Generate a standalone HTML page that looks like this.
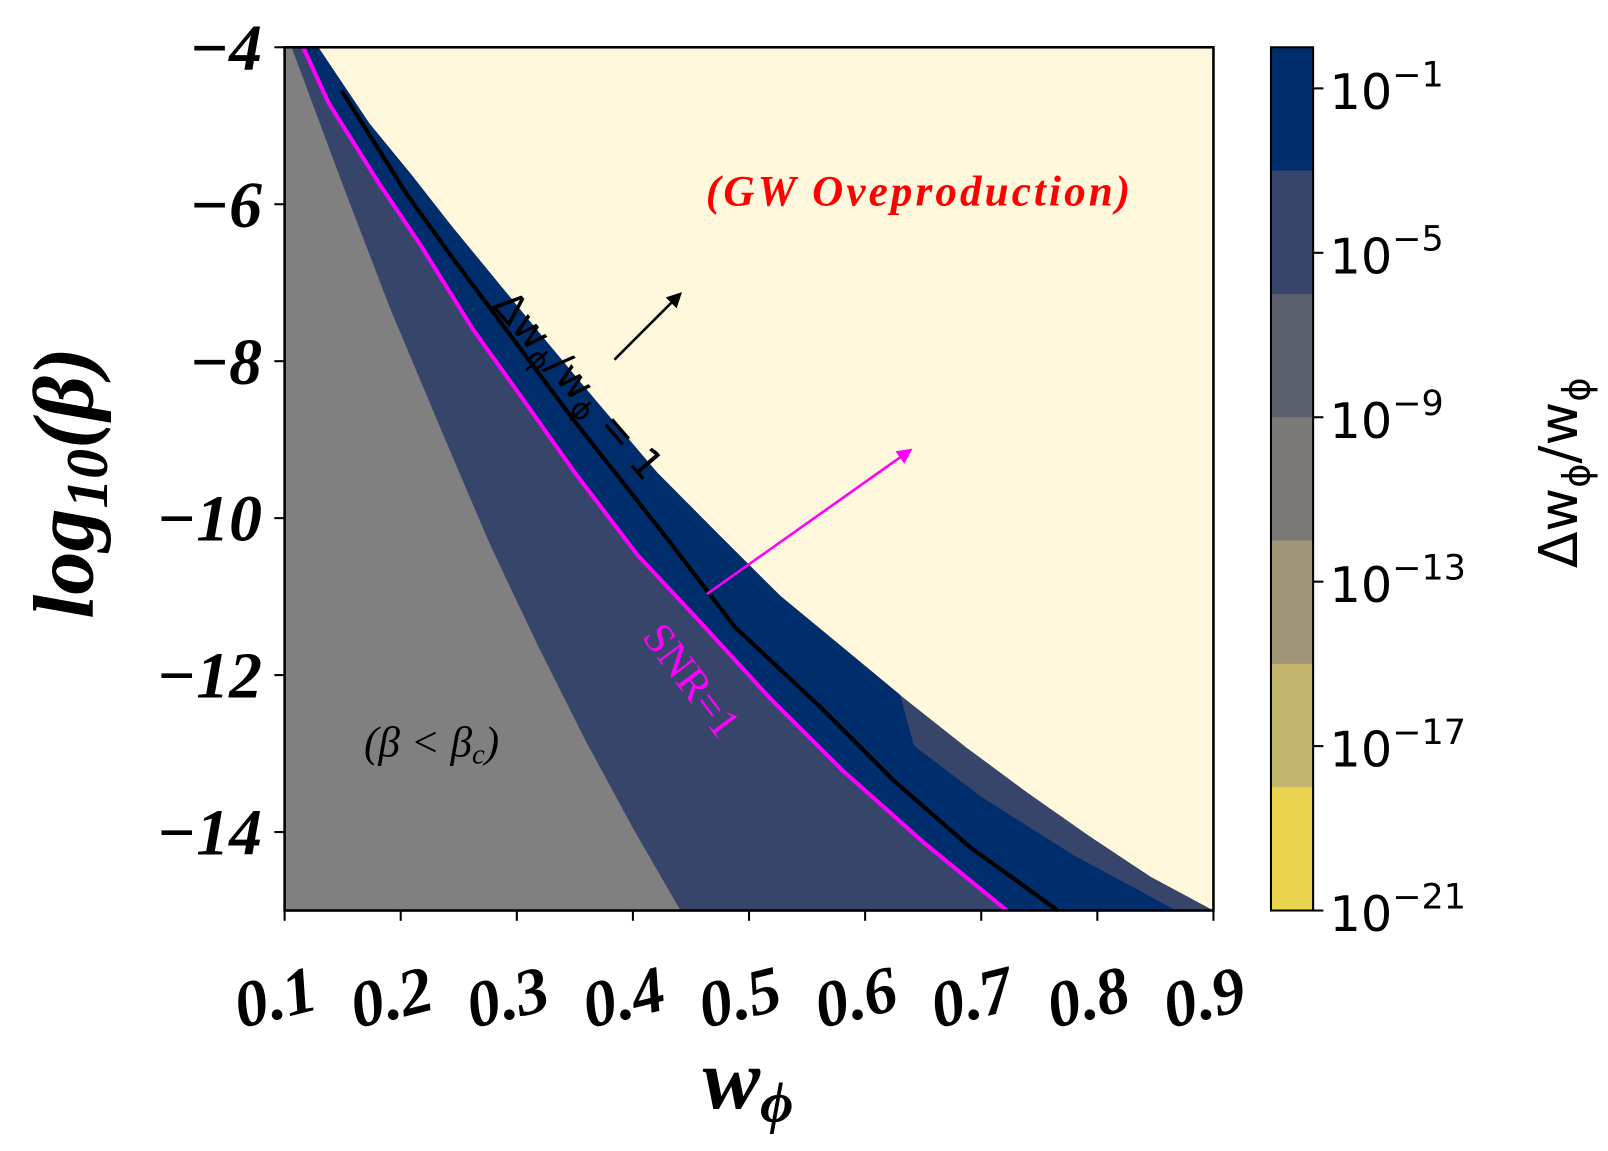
<!DOCTYPE html>
<html><head><meta charset="utf-8"><style>
html,body{margin:0;padding:0;background:#fff;overflow:hidden}
svg{display:block}
.tk{font-family:"Liberation Serif",serif;font-weight:bold;font-style:italic;font-size:64px;fill:#000}
.cb{font-family:"DejaVu Sans","Liberation Sans",sans-serif;font-size:48px;fill:#000}
</style></head><body>
<svg id="chart" width="1608" height="1151" viewBox="0 0 1565 1120" preserveAspectRatio="none" xmlns="http://www.w3.org/2000/svg">
<g id="plot"></g>
</svg>
<script>
// data arrays (w_phi, log10 beta)
const grayW=[0.1,0.106,0.150,0.191,0.235,0.277,0.318,0.359,0.400,0.441,0.1];
const grayB=[-4,-4,-5.75,-7.33,-8.88,-10.34,-11.62,-12.83,-13.95,-15,-15];
const outerW=[0.129,0.173,0.209,0.244,0.280,0.324,0.368,0.421,0.474,0.527,0.581,0.634,0.687,0.740,0.793,0.846,0.900];
const outerB=[-4.0,-4.97,-5.62,-6.28,-6.93,-7.72,-8.50,-9.42,-10.21,-10.99,-11.65,-12.30,-12.92,-13.50,-14.05,-14.57,-15.0];
const darkW=[0.129,0.173,0.209,0.244,0.280,0.324,0.368,0.421,0.474,0.527,0.581,0.630,0.642,0.700,0.780,0.868];
const darkB=[-4.0,-4.97,-5.62,-6.28,-6.93,-7.72,-8.50,-9.42,-10.21,-10.99,-11.65,-12.25,-12.90,-13.55,-14.30,-15.0];
const snrW=[0.116,0.138,0.182,0.218,0.262,0.306,0.350,0.404,0.454,0.519,0.581,0.651,0.722];
const snrB=[-4.0,-4.71,-5.75,-6.54,-7.59,-8.50,-9.42,-10.47,-11.26,-12.31,-13.22,-14.14,-15.0];
const oneW=[0.149,0.206,0.244,0.297,0.350,0.430,0.488,0.563,0.625,0.691,0.766];
const oneB=[-4.55,-5.89,-6.67,-7.72,-8.77,-10.27,-11.39,-12.43,-13.35,-14.20,-15.0];
const xTicks=[0.1,0.2,0.3,0.4,0.5,0.6,0.7,0.8,0.9];
const yTicks=[-4,-6,-8,-10,-12,-14];
const cbColors=['#002d6b','#38456b','#5a5f6e','#7a7975','#a09677','#c4b56e','#ebd54e'];
const cbLabels=['−1','−5','−9','−13','−17','−21'];

const X0=277,X1=1181,Y0=46,Y1=886;
function X(w){return X0+(w-0.1)/0.8*(X1-X0);}
function Y(b){return Y0+(-4-b)/11*(Y1-Y0);}
const NS='http://www.w3.org/2000/svg';
const g=document.getElementById('plot');
function mk(tag,attrs,parent){const e=document.createElementNS(NS,tag);for(const k in attrs)e.setAttribute(k,attrs[k]);(parent||g).appendChild(e);return e;}
function pts(ws,bs){return ws.map((w,i)=>X(w).toFixed(1)+','+Y(bs[i]).toFixed(1)).join(' ');}

let e;
e=mk('rect',{x:X0,y:Y0,width:X1-X0,height:Y1-Y0,fill:'#fff8dc'});


e=mk('polygon',{points:pts(outerW,outerB)+' '+X(0.1)+','+Y(-15)+' '+X(0.1)+','+Y(-4),fill:'#38456b'});


e=mk('polygon',{points:pts(darkW,darkB)+' '+pts(snrW.slice().reverse(),snrB.slice().reverse()),fill:'#002d6b'});


e=mk('polygon',{points:pts(grayW,grayB),fill:'#808080'});


e=mk('polyline',{points:pts(snrW,snrB),fill:'none',stroke:'#ff00ff','stroke-width':4});


e=mk('polyline',{points:pts(oneW,oneB),fill:'none',stroke:'#000','stroke-width':4});


e=mk('rect',{x:X0,y:Y0,width:X1-X0,height:Y1-Y0,fill:'none',stroke:'#000','stroke-width':2.5});



xTicks.forEach(t=>{
  const x=X(t);
  let l=mk('line',{x1:x,x2:x,y1:Y1,y2:Y1+10,stroke:'#000','stroke-width':2});
  
  
  let tx=mk('text',{x:0,y:0,class:'tk','text-anchor':'middle',transform:'translate('+(x-4)+','+(Y1+105)+') rotate(-14)'});
  tx.textContent=t.toFixed(1);
  
  
});
yTicks.forEach(t=>{
  const y=Y(t);
  let l=mk('line',{x1:X0-10,x2:X0,y1:y,y2:y,stroke:'#000','stroke-width':2});
  
  
  let tx=mk('text',{x:X0-22,y:y+22,class:'tk','text-anchor':'end'});
  tx.textContent='−'+Math.abs(t);
  
  
});

// colorbar
const CX=1237,CW=41,bh=(Y1-Y0)/cbColors.length;
cbColors.forEach((c,i)=>{
  let r=mk('rect',{x:CX,y:Y0+i*bh,width:CW,height:bh+0.5,fill:c});
  
  
});
e=mk('rect',{x:CX,y:Y0,width:CW,height:Y1-Y0,fill:'none',stroke:'#000','stroke-width':2});


cbLabels.forEach((s,i)=>{
  const y=Y0+40+i*160;
  let l=mk('line',{x1:CX+CW,x2:CX+CW+10,y1:y,y2:y,stroke:'#000','stroke-width':2});
  
  
  let tx=mk('text',{x:CX+CW+16,y:y+20,class:'cb'});
  tx.innerHTML='10<tspan dy="-22" font-size="34">'+s+'</tspan>';
  
  
});
</script>
<svg style="position:absolute;left:0;top:0" width="1608" height="1151" viewBox="0 0 1565 1120" preserveAspectRatio="none" xmlns="http://www.w3.org/2000/svg">
<defs>
<marker id="ab" markerWidth="6" markerHeight="6" refX="5" refY="3" orient="auto" markerUnits="strokeWidth"><path d="M0,0 L6,3 L0,6 z" fill="#000"/></marker>
<marker id="am" markerWidth="6" markerHeight="6" refX="5" refY="3" orient="auto" markerUnits="strokeWidth"><path d="M0,0 L6,3 L0,6 z" fill="#ff00ff"/></marker>
</defs>
<line x1="598" y1="350" x2="662" y2="286" stroke="#000" stroke-width="2.5" marker-end="url(#ab)"/>
<line x1="688" y1="578" x2="886" y2="438" stroke="#ff00ff" stroke-width="2.5" marker-end="url(#am)"/>
<text x="895" y="200" text-anchor="middle" fill="#ff0000" font-family="Liberation Serif,serif" font-weight="bold" font-style="italic" font-size="42" letter-spacing="3">(GW Oveproduction)</text>
<text x="420" y="736" text-anchor="middle" fill="#000" font-family="Liberation Serif,serif" font-style="italic" font-size="42">(β &lt; β<tspan font-size="28" dy="7">c</tspan><tspan dy="-7">)</tspan></text>
<text transform="translate(478,298) rotate(49)" fill="#000" font-family="DejaVu Sans,sans-serif" font-size="40">Δw<tspan font-size="28" dy="9">ϕ</tspan><tspan dy="-9">/w</tspan><tspan font-size="28" dy="9">ϕ</tspan><tspan dy="-9"> = 1</tspan></text>
<text transform="translate(624,620) rotate(53)" fill="#ff00ff" font-family="Liberation Serif,serif" font-size="42">SNR=1</text>
<text transform="translate(90,470) rotate(-90)" text-anchor="middle" font-family="Liberation Serif,serif" font-weight="bold" font-style="italic" font-size="84">log<tspan font-size="58" dy="14">10</tspan><tspan dy="-14">(β)</tspan></text>
<text x="728" y="1078" text-anchor="middle" font-family="Liberation Serif,serif" font-weight="bold" font-style="italic" font-size="84">w<tspan font-size="56" dy="14">ϕ</tspan></text>
<text transform="translate(1535,460) rotate(-90)" text-anchor="middle" font-family="DejaVu Sans,sans-serif" font-size="52">Δw<tspan font-size="36" dy="12">ϕ</tspan><tspan dy="-12">/w</tspan><tspan font-size="36" dy="12">ϕ</tspan></text>
</svg>
</body></html>
